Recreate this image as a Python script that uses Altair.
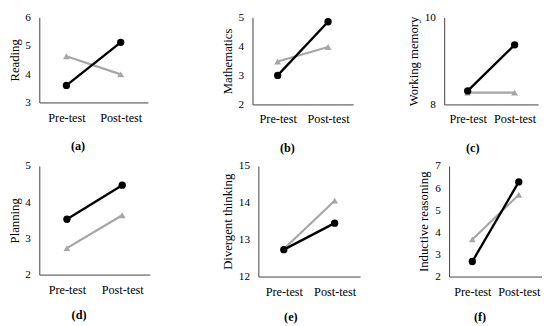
import altair as alt
import pandas as pd

tests = ["Pre-test", "Post-test"]
measures = ["Reading", "Mathematics", "Working memory",
            "Planning", "Divergent thinking", "Inductive reasoning"]
captions = ["(a)", "(b)", "(c)", "(d)", "(e)", "(f)"]
black_pre = [3.6, 3.0, 8.31, 3.53, 12.73, 2.68]
black_post = [5.12, 4.85, 9.37, 4.47, 13.45, 6.28]
gray_pre = [4.63, 3.48, 8.27, 2.73, 12.75, 3.68]
gray_post = [3.99, 3.98, 8.27, 3.64, 14.06, 5.7]
y_min = [3, 2, 8, 2, 12, 2]
y_max = [6, 5, 10, 5, 15, 7]

# layout (not data)
widths = [111, 103, 96, 113, 104, 95]
heights = [87, 89, 89, 111, 113, 113]
cap_offset = [17, 17, 17, 14, 14, 14]

GRAY = "#a6a6a6"
BLACK = "#000000"
FONT = "Liberation Serif"


def panel(i):
    df = pd.DataFrame({
        "test": tests * 2,
        "group": ["gray", "gray", "black", "black"],
        "value": [gray_pre[i], gray_post[i], black_pre[i], black_post[i]],
    })
    x = alt.X("test:N", sort=tests,
              scale=alt.Scale(type="point", padding=0.5),
              axis=alt.Axis(title=None, labelAngle=0, labelFont=FONT,
                            labelFontSize=12.5, labelPadding=9))
    y = alt.Y("value:Q",
              scale=alt.Scale(domain=[y_min[i], y_max[i]], nice=False, zero=False),
              axis=alt.Axis(title=measures[i], format="d", labelFont=FONT,
                            labelFontSize=11.5, labelPadding=9,
                            titleFont=FONT, titleFontSize=13,
                            titleFontWeight="normal", titlePadding=4,
                            values=list(range(y_min[i], y_max[i] + 1))))
    base = alt.Chart(df)
    g = base.transform_filter("datum.group == 'gray'")
    b = base.transform_filter("datum.group == 'black'")
    return alt.layer(
        g.mark_line(color=GRAY, strokeWidth=2.2).encode(x=x, y=y),
        g.mark_point(shape="triangle-up", filled=True, size=48,
                     color=GRAY, opacity=1).encode(x=x, y=y),
        b.mark_line(color=BLACK, strokeWidth=2.4).encode(x=x, y=y),
        b.mark_point(shape="circle", filled=True, size=56,
                     color=BLACK, opacity=1).encode(x=x, y=y),
    ).properties(
        width=widths[i], height=heights[i],
        title=alt.TitleParams(captions[i], orient="bottom", frame="bounds",
                              anchor="middle", font=FONT, fontSize=12.5,
                              fontWeight="bold", offset=cap_offset[i],
                              color="black"),
    )


p = [panel(i) for i in range(6)]
row1 = alt.hconcat(p[0], alt.hconcat(p[1], p[2], spacing=55), spacing=75)
row2 = alt.hconcat(p[3], alt.hconcat(p[4], p[5], spacing=59), spacing=73)

chart = alt.vconcat(row1, row2, spacing=6).properties(
    padding=0
).configure_view(stroke=None).configure_axis(
    grid=False, ticks=False, tickSize=0,
    domainColor="#404040", domainWidth=1,
    labelFont=FONT, labelColor="black", titleFont=FONT, titleColor="black",
)

chart.save("out.html", embed_options={"renderer": "svg", "actions": False})
